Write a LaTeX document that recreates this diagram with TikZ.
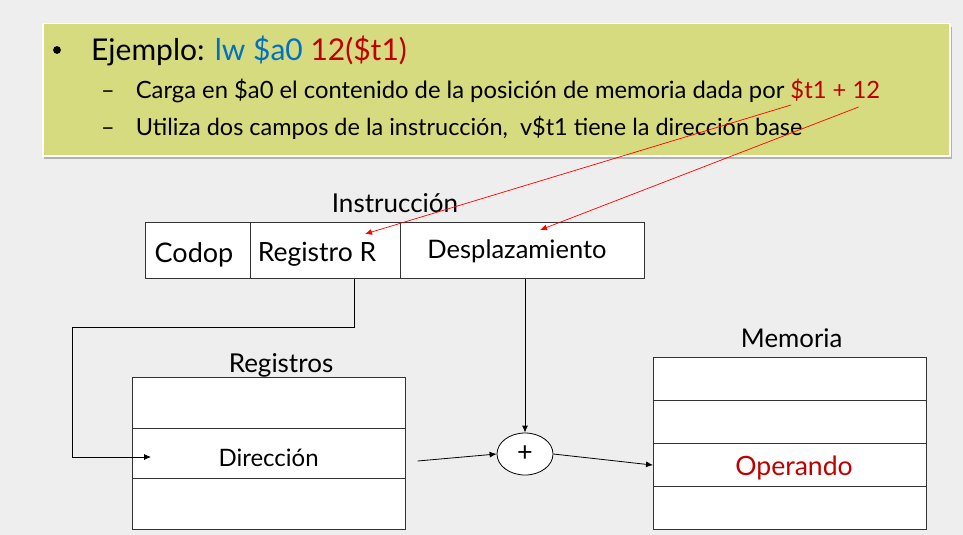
\documentclass[tikz,border=0pt]{standalone}
\usepackage{fontspec}
\setmainfont{Lato}
\usetikzlibrary{shapes.geometric,arrows.meta,calc}
\definecolor{bg}{HTML}{EEEEEE}
\definecolor{khaki}{HTML}{D5DB7E}
\definecolor{mblue}{HTML}{0070C0}
\definecolor{mred}{HTML}{C00000}
\definecolor{edge}{HTML}{333333}
\tikzset{
  field/.style={draw=edge, line width=1.2pt, fill=white, inner sep=0pt, anchor=north west},
  txt/.style={inner sep=0pt, anchor=base},
  arr/.style={draw=black, line width=0.8pt, -{Latex[length=7pt,width=6pt]}},
  redarr/.style={draw=red, line width=0.7pt, -{Latex[length=7pt,width=6pt]}},
}
\begin{document}
\begin{tikzpicture}[x=1pt,y=-1pt]
\fill[bg] (0,0) rectangle (963,535);
\useasboundingbox (0,0) rectangle (963,535);
% header box
\fill[black!30] (44,27) rectangle (952,159);
\node[field, draw=white, line width=1.5pt, fill=khaki, minimum width=907pt, minimum height=132pt] (hdr) at (42,23) {};
\fill[black] (57,50) circle (3.9pt);
\node[txt, anchor=base west, font=\fontsize{30}{34}\selectfont] (title) at (91,60) {Ejemplo: \textcolor{mblue}{lw \$a0} \textcolor{mred}{12(\$t1)}};
\node[txt, anchor=base west, font=\fontsize{23.5}{27}\selectfont] (d1) at (101,98) {–};
\node[txt, anchor=base west, font=\fontsize{23.8}{27}\selectfont] (l1) at (135.6,98) {Carga en \$a0 el contenido de la posición de memoria dada por \textcolor{mred}{\$t1 + 12}};
\node[txt, anchor=base west, font=\fontsize{23.5}{27}\selectfont] (d2) at (101,135) {–};
\node[txt, anchor=base west, font=\fontsize{23.5}{27}\selectfont] (l2) at (135.6,135) {Utiliza dos campos de la instrucción,\ \ v\$t1 tiene la dirección base};
% instruction
\node[txt, font=\fontsize{26}{30}\selectfont] (instl) at (395,212) {Instrucción};
\node[field, minimum width=105.5pt, minimum height=55.5pt] (codop) at (144.5,222) {};
\node[field, minimum width=150pt, minimum height=55.5pt] (regr) at (250,222) {};
\node[field, minimum width=244pt, minimum height=55.5pt] (desp) at (400,222) {};
\node[txt, font=\fontsize{27}{31}\selectfont] at (194,262) {Codop};
\node[txt, font=\fontsize{26.5}{30}\selectfont] at (317,261) {Registro R};
\node[txt, font=\fontsize{25.5}{29}\selectfont] at (517,258.3) {Desplazamiento};
% registers
\node[txt, font=\fontsize{26}{30}\selectfont] (regl) at (281,372.3) {Registros};
\node[field, minimum width=272.5pt, minimum height=51pt] (r1) at (132,377) {};
\node[field, minimum width=272.5pt, minimum height=50pt] (rdir) at (132,428) {};
\node[field, minimum width=272.5pt, minimum height=51pt] (r3) at (132,478) {};
\node[txt, font=\fontsize{24}{28}\selectfont] at (268.6,466) {Dirección};
% memory
\node[txt, font=\fontsize{25.8}{30}\selectfont] (meml) at (791.7,347.7) {Memoria};
\node[field, minimum width=273pt, minimum height=43pt] (m1) at (653,357) {};
\node[field, minimum width=273pt, minimum height=43pt] (m2) at (653,400) {};
\node[field, minimum width=273pt, minimum height=43pt] (mop) at (653,443) {};
\node[field, minimum width=273pt, minimum height=43pt] (m4) at (653,486) {};
\node[txt, font=\fontsize{26.6}{30}\selectfont, text=mred] at (794,475) {Operando};
% adder
\node[ellipse, draw=black, line width=0.8pt, fill=white, minimum width=56pt, minimum height=42pt, inner sep=0pt, font=\fontsize{27}{31}\selectfont] (plus) at (525,454) {+};
% connectors
\coordinate (c1) at (354,327);
\coordinate (c2) at (72,457);
\coordinate (dirin) at (151,457);
\coordinate (dirout) at (417.6,461);
\draw[arr] (regr.south -| c1) -- (c1) -| (c2) -- (dirin);
\draw[arr] (desp.south -| plus.north) -- (plus.north);
\draw[arr] (dirout) -- (plus.west);
\draw[arr] (plus.east) -- (mop.west);
% red arrows
\coordinate (s1) at (791,105);
\coordinate (s2) at (858.6,107);
\coordinate (e1) at (365,234);
\coordinate (e2) at (540,230);
\draw[redarr] (s1) -- (e1);
\draw[redarr] (s2) -- (e2);
\end{tikzpicture}
\end{document}
